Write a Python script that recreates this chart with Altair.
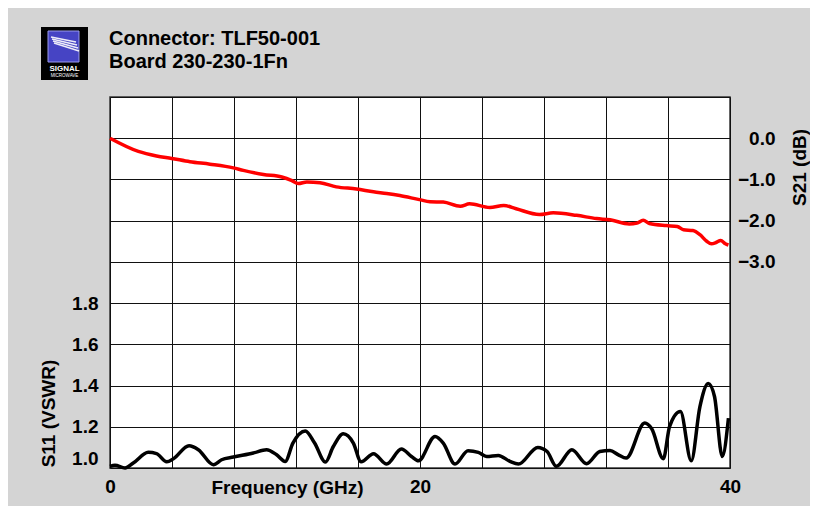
import altair as alt
import pandas as pd

# S21 insertion loss (dB)
s21_freq = [0.0, 1.83, 3.0, 3.98, 5.16, 6.45, 7.96, 8.6, 9.9, 11.08, 11.7, 12.15, 12.7,
            13.55, 14.6, 15.9, 17.0, 17.85, 18.7, 19.96, 20.65, 21.5, 22.6, 23.2, 24.5,
            25.4, 26.2, 27.7, 28.6, 30.1, 31.4, 32.26, 33.5, 34.0, 34.4, 34.8, 35.9,
            36.6, 37.0, 37.6, 38.06, 38.5, 38.8, 39.1, 39.4, 39.7, 39.9]
s21_db = [0.0, -0.32, -0.43, -0.49, -0.57, -0.63, -0.72, -0.78, -0.88, -0.94, -1.02, -1.10, -1.06,
          -1.08, -1.18, -1.23, -1.30, -1.34, -1.39, -1.49, -1.54, -1.55, -1.65, -1.59, -1.68,
          -1.63, -1.71, -1.85, -1.81, -1.87, -1.95, -1.98, -2.08, -2.06, -1.99, -2.07, -2.12,
          -2.14, -2.22, -2.24, -2.34, -2.50, -2.56, -2.53, -2.48, -2.56, -2.59]

# S11 return loss (VSWR)
s11_freq = [0.0, 0.32, 0.97, 1.5, 2.47, 3.0, 3.66, 4.09, 5.1, 5.7, 6.67, 7.2, 7.96, 9.25,
            10.1, 10.75, 11.3, 11.8, 12.6, 13.2, 13.9, 14.4, 15.05, 15.7, 16.2, 17.0, 17.85,
            18.8, 19.45, 19.9, 20.97, 21.5, 22.26, 23.1, 23.76, 24.3, 25.05, 25.8, 26.35,
            27.6, 28.2, 28.8, 29.8, 30.75, 31.6, 32.26, 32.8, 33.3, 34.5, 34.95, 35.7, 36.1,
            36.8, 37.5, 38.06, 38.6, 39.0, 39.5, 39.9]
s11_vswr = [1.008, 1.013, 1.0, 1.024, 1.076, 1.07, 1.03, 1.045, 1.108, 1.089, 1.016, 1.04, 1.053, 1.073,
            1.089, 1.064, 1.032, 1.121, 1.18, 1.121, 1.029, 1.103, 1.166, 1.121, 1.03, 1.069, 1.019,
            1.092, 1.056, 1.035, 1.153, 1.121, 1.019, 1.084, 1.076, 1.056, 1.061, 1.032, 1.019,
            1.1, 1.08, 1.008, 1.089, 1.021, 1.08, 1.085, 1.064, 1.048, 1.218, 1.19, 1.045, 1.201,
            1.274, 1.035, 1.298, 1.41, 1.347, 1.056, 1.242]

x_grid = [0, 4, 8, 12, 16, 20, 24, 28, 32, 36, 40]
vswr_grid = [1.0, 1.2, 1.4, 1.6, 1.8, 2.0, 2.2, 2.4, 2.6, 2.8]
db_ticks = [0.0, -1.0, -2.0, -3.0]

title_lines = ["Connector: TLF50-001", "Board 230-230-1Fn"]
logo_lines = ["SIGNAL", "MICROWAVE"]

FONT = "Liberation Sans"
LFS = 19  # label / axis-title font size

df11 = pd.DataFrame({"f": s11_freq, "v": s11_vswr})
df21 = pd.DataFrame({"f": s21_freq, "d": s21_db})

x_enc = alt.X("f:Q", scale=alt.Scale(domain=[0, 40], nice=False, zero=False),
              axis=alt.Axis(values=x_grid, grid=True, gridColor="#111", gridOpacity=1, gridWidth=1,
                            domain=False, ticks=False, labelFlush=False,
                            labelExpr="datum.value % 20 == 0 ? datum.label : ''",
                            labelFont=FONT, labelFontSize=LFS, labelFontWeight="bold", labelColor="black",
                            labelPadding=9,
                            title="Frequency (GHz)", titleFont=FONT, titleFontSize=LFS,
                            titleFontWeight="bold", titleColor="black",
                            titleX=177, titleY=25, titleBaseline="alphabetic", titleAnchor="middle"))

s11 = alt.Chart(df11).mark_line(color="black", strokeWidth=3.5, interpolate="monotone").encode(
    x=x_enc,
    y=alt.Y("v:Q", scale=alt.Scale(domain=[1.0, 2.8], nice=False, zero=False),
            axis=alt.Axis(values=vswr_grid, grid=True, gridColor="#111", gridOpacity=1, gridWidth=1,
                          domain=False, ticks=False, labelFlush=True,
                          labelExpr="datum.value <= 1.81 ? format(datum.value, '.1f') : ''",
                          labelFont=FONT, labelFontSize=LFS, labelFontWeight="bold", labelColor="black",
                          labelPadding=12,
                          title="S11 (VSWR)", titleFont=FONT, titleFontSize=LFS, titleFontWeight="bold",
                          titleColor="black", titleAngle=270, titleX=-62, titleY=316,
                          titleBaseline="middle", titleAlign="center")),
)

s21 = alt.Chart(df21).mark_line(color="#ff0000", strokeWidth=3.5, interpolate="monotone").encode(
    x=alt.X("f:Q"),
    y=alt.Y("d:Q", scale=alt.Scale(domain=[-8, 1], nice=False, zero=False),
            axis=alt.Axis(orient="right", values=db_ticks, grid=False, domain=False, ticks=False,
                          format=".1f", labelAlign="right", labelPadding=45,
                          labelFont=FONT, labelFontSize=LFS, labelFontWeight="bold", labelColor="black",
                          title="S21 (dB)", titleFont=FONT, titleFontSize=LFS, titleFontWeight="bold",
                          titleColor="black", titleAngle=270, titleX=69, titleY=70,
                          titleBaseline="middle", titleAlign="center")),
)

one = pd.DataFrame({"a": [0]})
title1 = alt.Chart(one).mark_text(text=title_lines[0], color="black", font=FONT, fontSize=20,
                                  fontWeight="bold", align="left", baseline="alphabetic").encode(
    x=alt.value(-1), y=alt.value(-52))
title2 = alt.Chart(one).mark_text(text=title_lines[1], color="black", font=FONT, fontSize=20,
                                  fontWeight="bold", align="left", baseline="alphabetic").encode(
    x=alt.value(-1), y=alt.value(-29))

logo_bg = alt.Chart(one).mark_rect(color="black").encode(
    x=alt.value(-69), x2=alt.value(-22), y=alt.value(-70), y2=alt.value(-17))
logo_sq = alt.Chart(one).mark_rect(color="#4644c4", stroke="#9a9aee", strokeWidth=1).encode(
    x=alt.value(-62), x2=alt.value(-31), y=alt.value(-66), y2=alt.value(-35))
stripes = []
for i, (a, b) in enumerate([(-60, -55), (-58, -52), (-56, -49), (-54, -46)]):
    stripes.append(alt.Chart(one).mark_rule(color="white", strokeWidth=1.6, opacity=0.9).encode(
        x=alt.value(-59 + i), x2=alt.value(-34 + i), y=alt.value(a), y2=alt.value(b)))
logo_t1 = alt.Chart(one).mark_text(text=logo_lines[0], color="white", font=FONT, fontSize=8,
                                   fontWeight="bold", baseline="middle").encode(
    x=alt.value(-45.5), y=alt.value(-28.5))
logo_t2 = alt.Chart(one).mark_text(text=logo_lines[1], color="white", font=FONT, fontSize=4.5,
                                   baseline="middle").encode(x=alt.value(-45.5), y=alt.value(-21.5))

chart = alt.layer(s11, s21, title1, title2, logo_bg, logo_sq, *stripes, logo_t1, logo_t2).resolve_scale(
    y="independent"
).properties(
    width=620, height=371,
    autosize=alt.AutoSizeParams(type="none"),
    padding={"left": 102, "top": 89, "right": 80, "bottom": 38},
    background="#d4d4d4",
).configure_view(stroke="#333", strokeWidth=1.5, fill="white")

chart.save("out.html", embed_options={"renderer": "svg", "actions": False})
